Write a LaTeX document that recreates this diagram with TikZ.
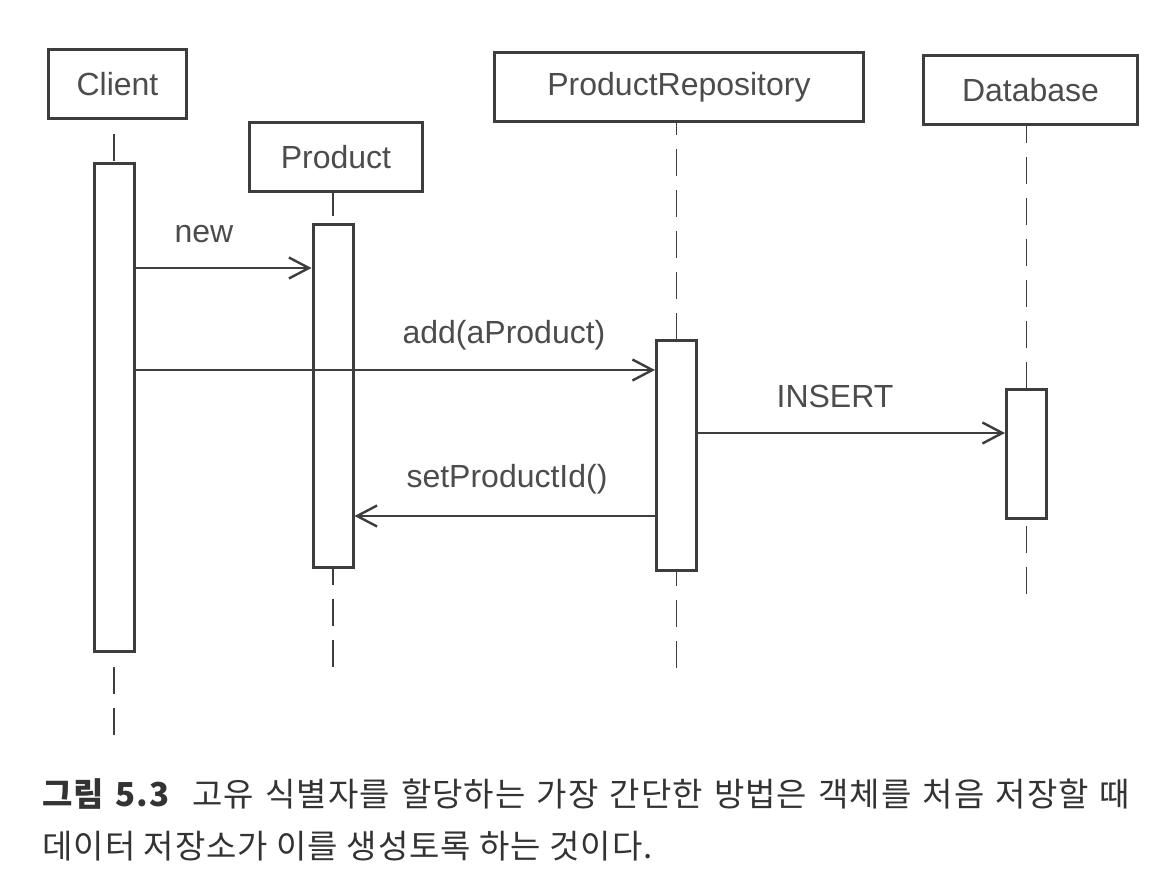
\documentclass[tikz,border=0pt]{standalone}
\usepackage{fontspec}
\setmainfont{Liberation Sans}
\newfontfamily\krfont[LetterSpace=3]{Noto Sans CJK KR}
\usetikzlibrary{arrows.meta,positioning}
\tikzset{every picture/.style={line width=0.75pt}}
\definecolor{ink}{gray}{0.24}
\definecolor{inktext}{gray}{0.3}

\begin{document}
\begin{tikzpicture}[x=1pt,y=-1pt,
    head/.style={draw=ink, line width=3pt, minimum height=69pt, inner sep=0pt,
                 text=inktext, font=\fontsize{32}{38}\selectfont},
    bar/.style={draw=ink, fill=white, line width=3pt, minimum width=40pt, inner sep=0pt},
    life/.style={ink, line width=1.6pt, dash pattern=on 27pt off 14pt},
    msg/.style={ink, line width=2pt, -{Straight Barb[length=20pt,width=21pt,line width=2.4pt]}},
    lbl/.style={text=inktext, font=\fontsize{32}{38}\selectfont, anchor=base, inner sep=0pt}]
    \useasboundingbox (0,0) rectangle (1170,892);

    % 객체 상자
    \foreach \nm/\cx/\cy/\w/\txt in {client/117.5/84/138/Client, product/336/157/173/Product,
        repo/679/87/369/ProductRepository, db/1030.5/90/214/Database}
        \node[head, minimum width=\w pt] (\nm) at (\cx,\cy) {\txt};

    % 생명선 끝점
    \coordinate (client-end) at (114,738);
    \coordinate (product-end) at (333,668);
    \coordinate (repo-end) at (676.5,670);
    \coordinate (db-end) at (1026.5,596);

    % 생명선
    \foreach \nm/\ph in {client/27, product/4, repo/15, db/10}
        \draw[life, dash phase=\ph pt] (\nm.south -| \nm-end) -- (\nm-end);

    % 활성 막대
    \foreach \nm/\cx/\cy/\h in {client/114/407.5/488, product/333/396/343,
        repo/676.5/455.5/230, db/1026.5/454/129}
        \node[bar, minimum height=\h pt] (\nm-bar) at (\cx,\cy) {};

    % 메시지
    \coordinate (m-new) at (0,268);
    \coordinate (m-add) at (0,370);
    \coordinate (m-insert) at (0,433);
    \coordinate (m-set) at (0,516);
    \draw[msg] (client-bar.east |- m-new) -- (product-bar.west |- m-new);
    \draw[msg] (client-bar.east |- m-add) -- (repo-bar.west |- m-add);
    \draw[msg] (repo-bar.east |- m-insert) -- (db-bar.west |- m-insert);
    \draw[msg] (repo-bar.west |- m-set) -- (product-bar.east |- m-set);

    % 메시지 이름
    \node[lbl] (l-new) at (204,242) {new};
    \node[lbl] (l-add) at (504,343) {add(aProduct)};
    \node[lbl] (l-insert) at (835,407) {INSERT};
    \node[lbl] (l-set) at (507,487) {setProductId()};

    % 그림 설명
    \node[anchor=base west, inner sep=0pt, text=black!80, font=\krfont\fontsize{33}{40}\selectfont] (cap1) at (42,806)
        {\makebox[1088pt][s]{{\bfseries 그림 5.3}\hspace{12pt} 고유 식별자를 할당하는 가장 간단한 방법은 객체를 처음 저장할 때}};
    \node[anchor=base west, inner sep=0pt, text=black!80, font=\krfont\fontsize{33}{40}\selectfont] (cap2) at (42,858)
        {데이터 저장소가 이를 생성토록 하는 것이다.};
\end{tikzpicture}
\end{document}
